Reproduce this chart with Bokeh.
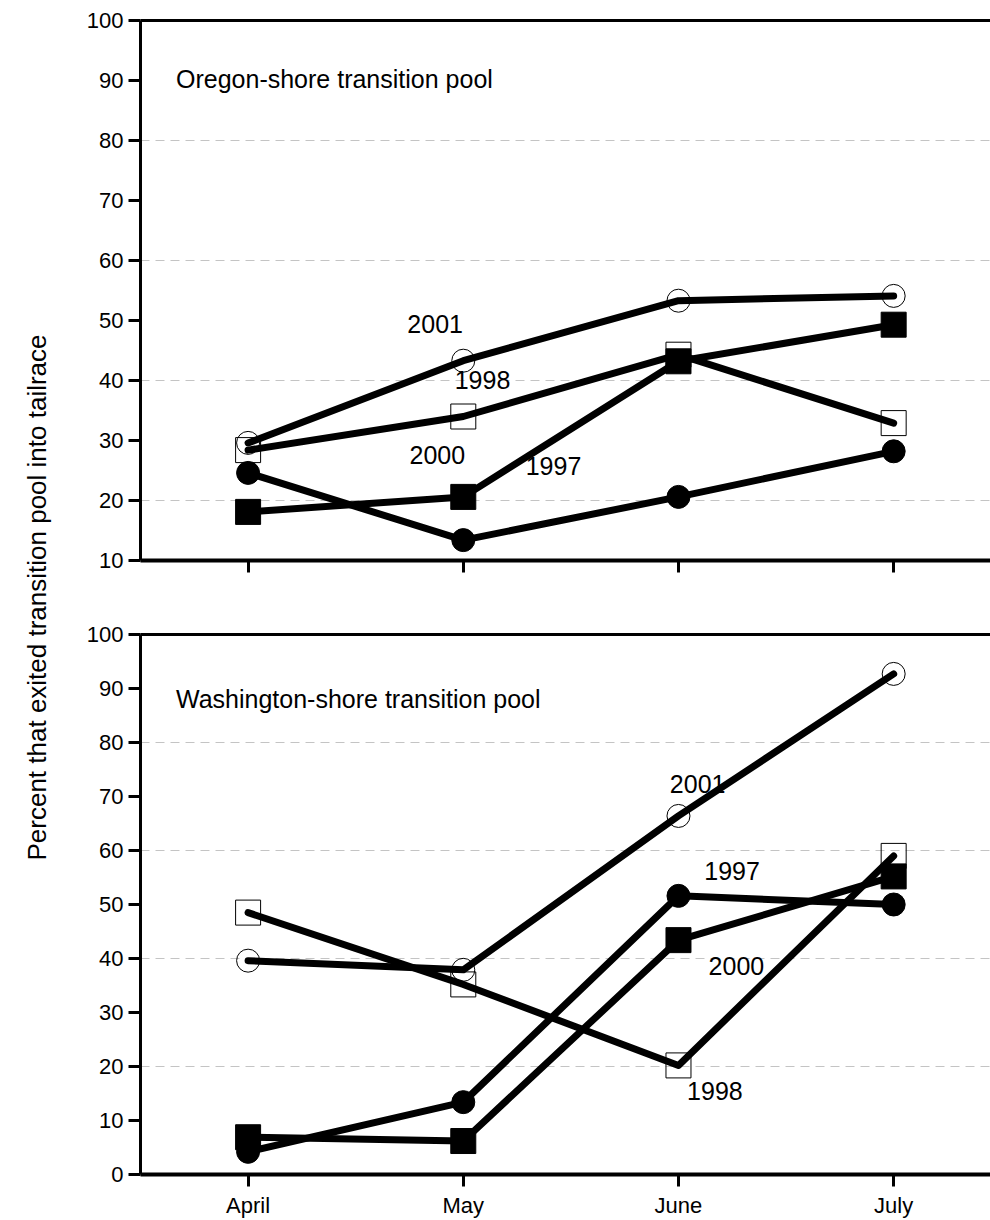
from math import pi

from bokeh.core.properties import value
from bokeh.embed import file_html
from bokeh.layouts import column, row
from bokeh.models import FixedTicker, LinearAxis, Range1d
from bokeh.plotting import figure
from bokeh.resources import INLINE

# ---- data -------------------------------------------------------------
months = ["April", "May", "June", "July"]
month_pos = [1, 2, 3, 4]

# Oregon-shore transition pool: percent exiting into tailrace
oregon_1997 = [24.6, 13.4, 20.6, 28.2]
oregon_1998 = [28.4, 34.0, 44.3, 32.9]
oregon_2000 = [18.1, 20.6, 43.2, 49.3]
oregon_2001 = [29.6, 43.3, 53.3, 54.1]

# Washington-shore transition pool
wash_1997 = [4.2, 13.4, 51.6, 50.0]
wash_1998 = [48.5, 35.2, 20.2, 59.0]
wash_2000 = [6.9, 6.2, 43.4, 55.2]
wash_2001 = [39.6, 37.9, 66.4, 92.7]

years = ["1997", "1998", "2000", "2001"]

# ---- styling ----------------------------------------------------------
FONT = "Liberation Sans"
TICK_FONT = "22px"
NOTE_FONT = "25px"

# where each year's name is written in each panel (month axis, percent)
oregon_year_pos = {"2001": (1.74, 49.4), "1998": (1.96, 40.1),
                   "2000": (1.75, 27.6), "1997": (2.29, 25.7)}
wash_year_pos = {"2001": (2.96, 72.3), "1997": (3.12, 56.2),
                 "2000": (3.14, 38.7), "1998": (3.04, 15.4)}

marker_style = {
    "1997": dict(marker="circle", size=23, fill_color="black", line_color="black"),
    "1998": dict(marker="square", size=25, fill_color=None, line_color="black", line_width=1),
    "2000": dict(marker="square", size=25, fill_color="black", line_color="black"),
    "2001": dict(marker="circle", size=23, fill_color=None, line_color="black", line_width=1),
}
draw_order = ["1998", "2001", "1997", "2000"]


def make_panel(series, ymin, yticks, title, title_y, year_pos, show_months,
               height, border_top, border_bottom):
    p = figure(width=930, height=height,
               x_range=Range1d(0.5, 4.45), y_range=Range1d(ymin, 100),
               output_backend="svg", toolbar_location=None,
               min_border_left=80, min_border_right=0,
               min_border_top=border_top, min_border_bottom=border_bottom)
    p.outline_line_color = None
    p.background_fill_color = "white"
    p.border_fill_color = "white"

    # left axis
    ya = p.yaxis[0]
    ya.ticker = FixedTicker(ticks=yticks)
    ya.axis_line_width = 3
    ya.axis_line_color = "black"
    ya.major_tick_line_width = 3
    ya.major_tick_line_color = "black"
    ya.major_tick_out = 12
    ya.major_tick_in = 0
    ya.minor_tick_line_color = None
    ya.major_label_standoff = 5
    ya.major_label_text_font = FONT
    ya.major_label_text_font_size = TICK_FONT
    ya.major_label_text_color = "black"

    # bottom (month) axis
    xa = p.xaxis[0]
    xa.ticker = FixedTicker(ticks=month_pos)
    if show_months:
        xa.major_label_overrides = {m: lab for m, lab in zip(month_pos, months)}
    else:
        xa.major_label_overrides = {m: "" for m in month_pos}
    xa.axis_line_width = 4
    xa.axis_line_color = "black"
    xa.major_tick_line_width = 3
    xa.major_tick_line_color = "black"
    xa.major_tick_out = 12
    xa.major_tick_in = 0
    xa.minor_tick_line_color = None
    xa.major_label_standoff = 6
    xa.major_label_text_font = FONT
    xa.major_label_text_font_size = TICK_FONT
    xa.major_label_text_color = "black"

    # plain rule along the top of the frame
    top = LinearAxis(ticker=FixedTicker(ticks=[]), axis_line_width=3,
                     axis_line_color="black", major_tick_line_color=None,
                     minor_tick_line_color=None, major_label_text_font_size="0px",
                     major_tick_out=0, major_label_standoff=0)
    p.add_layout(top, "above")

    # grid: dashed light lines every 20
    p.xgrid.visible = False
    p.ygrid.ticker = FixedTicker(ticks=[20, 40, 60, 80])
    p.ygrid.grid_line_color = "#c4c4c4"
    p.ygrid.grid_line_dash = "9 6"
    p.ygrid.grid_line_width = 1

    for yr in years:
        p.line(month_pos, series[yr], line_color="black", line_width=7,
               line_cap="round", line_join="round")
    for yr in draw_order:
        p.scatter(month_pos, series[yr], **marker_style[yr])

    p.text(x=[a for a, b in year_pos.values()], y=[b for a, b in year_pos.values()],
           text=list(year_pos.keys()), text_font=value(FONT),
           text_font_size=NOTE_FONT, text_align="left",
           text_baseline="alphabetic", text_color="black")
    p.text(x=[0.665], y=[title_y], text=[title], text_font=value(FONT),
           text_font_size=NOTE_FONT, text_align="left",
           text_baseline="alphabetic", text_color="black")
    return p


oregon = {"1997": oregon_1997, "1998": oregon_1998, "2000": oregon_2000, "2001": oregon_2001}
wash = {"1997": wash_1997, "1998": wash_1998, "2000": wash_2000, "2001": wash_2001}

p_top = make_panel(oregon, 10, list(range(10, 101, 10)),
                   "Oregon-shore transition pool", 90.3, oregon_year_pos,
                   False, 597, 20, 37)
p_bot = make_panel(wash, 0, list(range(0, 101, 10)),
                   "Washington-shore transition pool", 88.1, wash_year_pos,
                   True, 623, 37, 45)

# shared vertical axis title
p_lab = figure(width=60, height=1220, x_range=Range1d(0, 60), y_range=Range1d(0, 1220),
               output_backend="svg", toolbar_location=None,
               x_axis_location=None, y_axis_location=None, min_border=0)
p_lab.outline_line_color = None
p_lab.grid.visible = False
p_lab.text(x=[36], y=[623], text=["Percent that exited transition pool into tailrace"],
           angle=pi / 2, text_font=value(FONT), text_font_size="26px",
           text_align="center", text_baseline="alphabetic", text_color="black")

layout = row(p_lab, column(p_top, p_bot))

with open("out.html", "w") as f:
    f.write(file_html(layout, INLINE))
